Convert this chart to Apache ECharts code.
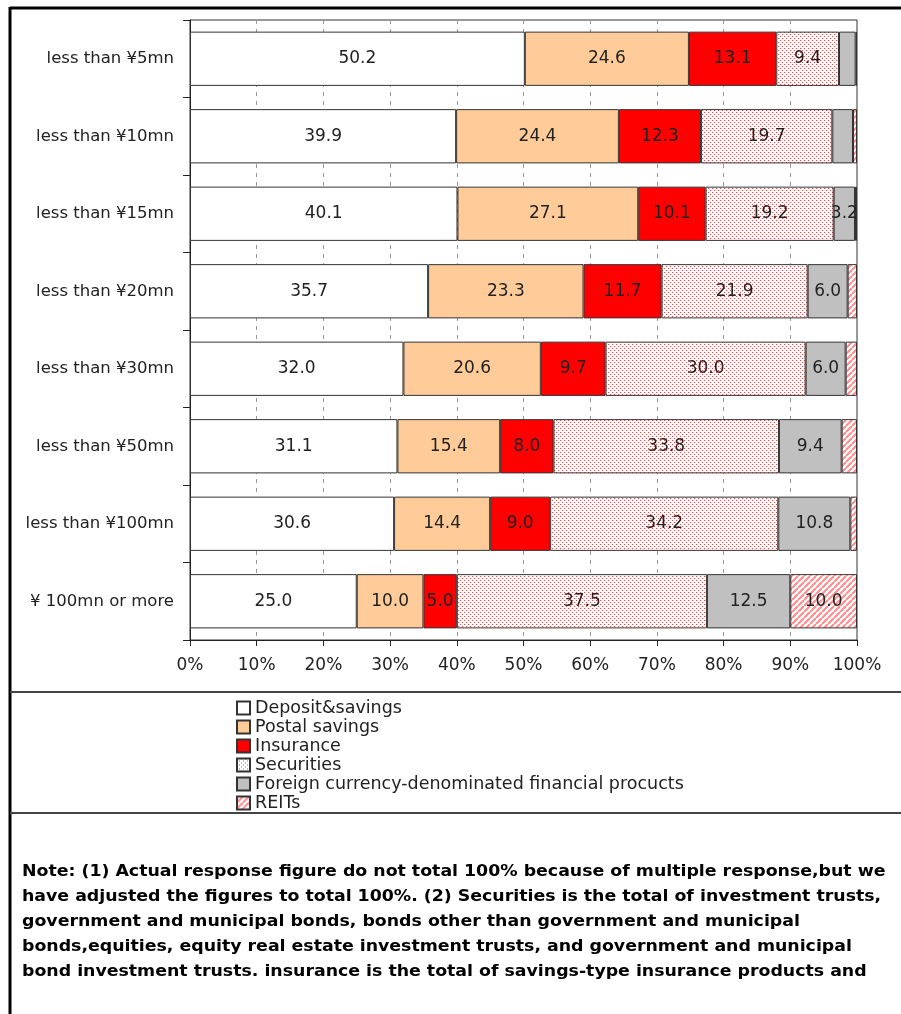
<!DOCTYPE html>
<html>
<head>
<meta charset="utf-8">
<script src="https://cdn.jsdelivr.net/npm/echarts@6/dist/echarts.min.js"></script>
<style>
  html, body { margin: 0; padding: 0; background: #fff; }
  #chart { width: 901px; height: 1014px; }
</style>
</head>
<body>
<div id="chart"></div>
<script>
// Asset holdings by financial-asset bracket (share of respondents, %)
const categories = [
  'less than ¥5mn', 'less than ¥10mn', 'less than ¥15mn', 'less than ¥20mn',
  'less than ¥30mn', 'less than ¥50mn', 'less than ¥100mn', '¥ 100mn or more'
];
const seriesNames = [
  'Deposit&savings', 'Postal savings', 'Insurance', 'Securities',
  'Foreign currency-denominated financial procucts', 'REITs'
];
const deposit    = [50.2, 39.9, 40.1, 35.7, 32.0, 31.1, 30.6, 25.0];
const postal     = [24.6, 24.4, 27.1, 23.3, 20.6, 15.4, 14.4, 10.0];
const insurance  = [13.1, 12.3, 10.1, 11.7,  9.7,  8.0,  9.0,  5.0];
const securities = [ 9.4, 19.7, 19.2, 21.9, 30.0, 33.8, 34.2, 37.5];
const foreignCur = [ 2.5,  3.1,  3.2,  6.0,  6.0,  9.4, 10.8, 12.5];
const reits      = [ 0.2,  0.6,  0.3,  1.4,  1.7,  2.3,  1.0, 10.0];

const noteLines = [
  'Note: (1) Actual response figure do not total 100% because of multiple response,but we',
  'have adjusted the figures to total 100%. (2) Securities is the total of investment trusts,',
  'government and municipal bonds, bonds other than government and municipal',
  'bonds,equities, equity real estate investment trusts, and government and municipal',
  'bond investment trusts. insurance is the total of savings-type insurance products and'
];

// Fill textures: red dot screen and diagonal red hatching
function dotTexture() {
  const c = document.createElement('canvas');
  c.width = 4; c.height = 4;
  const g = c.getContext('2d');
  g.fillStyle = '#ffffff'; g.fillRect(0, 0, 4, 4);
  g.fillStyle = '#ff3b3b';
  g.fillRect(0, 0, 1, 1);
  g.fillRect(2, 2, 1, 1);
  return c;
}
function hatchTexture() {
  const s = 6;
  const c = document.createElement('canvas');
  c.width = s; c.height = s;
  const g = c.getContext('2d');
  g.fillStyle = '#ffffff'; g.fillRect(0, 0, s, s);
  g.strokeStyle = '#ff8f8f';
  g.lineWidth = 2.2;
  for (let k = -1; k <= 1; k++) {
    g.beginPath();
    g.moveTo(k * s, s);
    g.lineTo(k * s + s, 0);
    g.stroke();
  }
  return c;
}

const fills = [
  '#ffffff',
  '#ffcc99',
  '#ff0000',
  { image: dotTexture(), repeat: 'repeat' },
  '#c0c0c0',
  { image: hatchTexture(), repeat: 'repeat' }
];
const values = [deposit, postal, insurance, securities, foreignCur, reits];

const FONT = 'DejaVu Sans';

const series = values.map((data, i) => ({
  name: seriesNames[i],
  type: 'bar',
  stack: 'total',
  barCategoryGap: '30%',
  data: data,
  itemStyle: { color: fills[i], borderColor: '#333', borderWidth: 1 },
  emphasis: { disabled: true },
  label: {
    show: true,
    position: 'inside',
    fontFamily: FONT,
    fontSize: 17,
    color: '#222',
    formatter: p => (p.value >= 3.2 ? p.value.toFixed(1) : '')
  }
}));

const chart = echarts.init(document.getElementById('chart'), null, { renderer: 'canvas' });
chart.setOption({
  animation: false,
  backgroundColor: '#ffffff',
  grid: {
    left: 190, right: 44, top: 20, bottom: 374,
    show: true, borderColor: '#333', borderWidth: 1, backgroundColor: '#ffffff'
  },
  xAxis: {
    type: 'value',
    min: 0, max: 100, interval: 10,
    axisLine: { show: true, lineStyle: { color: '#222', width: 1 } },
    axisTick: { show: true, length: 6, lineStyle: { color: '#222' } },
    axisLabel: { formatter: '{value}%', fontFamily: FONT, fontSize: 17, color: '#222', margin: 17 },
    splitLine: { show: true, lineStyle: { color: '#999', type: [4, 5], width: 1 } }
  },
  yAxis: {
    type: 'category',
    inverse: true,
    data: categories,
    axisLine: { show: true, lineStyle: { color: '#222', width: 1 } },
    axisTick: { show: true, length: 7, lineStyle: { color: '#222' } },
    axisLabel: { fontFamily: FONT, fontSize: 16.5, color: '#222', margin: 16 }
  },
  legend: {
    orient: 'vertical',
    left: 236, top: 699,
    padding: 0,
    itemWidth: 13, itemHeight: 13, itemGap: 1,
    icon: 'rect',
    selectedMode: false,
    textStyle: { fontFamily: FONT, fontSize: 17.5, color: '#222', padding: [0, 0, 0, 0] },
    data: seriesNames
  },
  graphic: [
    // outer frame and section dividers
    { type: 'line', shape: { x1: 10, y1: 8, x2: 901, y2: 8 }, style: { stroke: '#000', lineWidth: 3 }, z: 10 },
    { type: 'line', shape: { x1: 10, y1: 7, x2: 10, y2: 1014 }, style: { stroke: '#000', lineWidth: 3 }, z: 10 },
    { type: 'line', shape: { x1: 10, y1: 692, x2: 901, y2: 692 }, style: { stroke: '#444', lineWidth: 2 }, z: 10 },
    { type: 'line', shape: { x1: 10, y1: 813, x2: 901, y2: 813 }, style: { stroke: '#444', lineWidth: 2 }, z: 10 },
    {
      type: 'text',
      left: 22, top: 859,
      scaleX: 1.205,
      style: {
        text: noteLines.join('\n'),
        fontFamily: 'DejaVu Sans Condensed',
        fontWeight: 'bold',
        fontSize: 16,
        lineHeight: 25,
        fill: '#000'
      }
    }
  ],
  series: series
});
</script>
</body>
</html>
